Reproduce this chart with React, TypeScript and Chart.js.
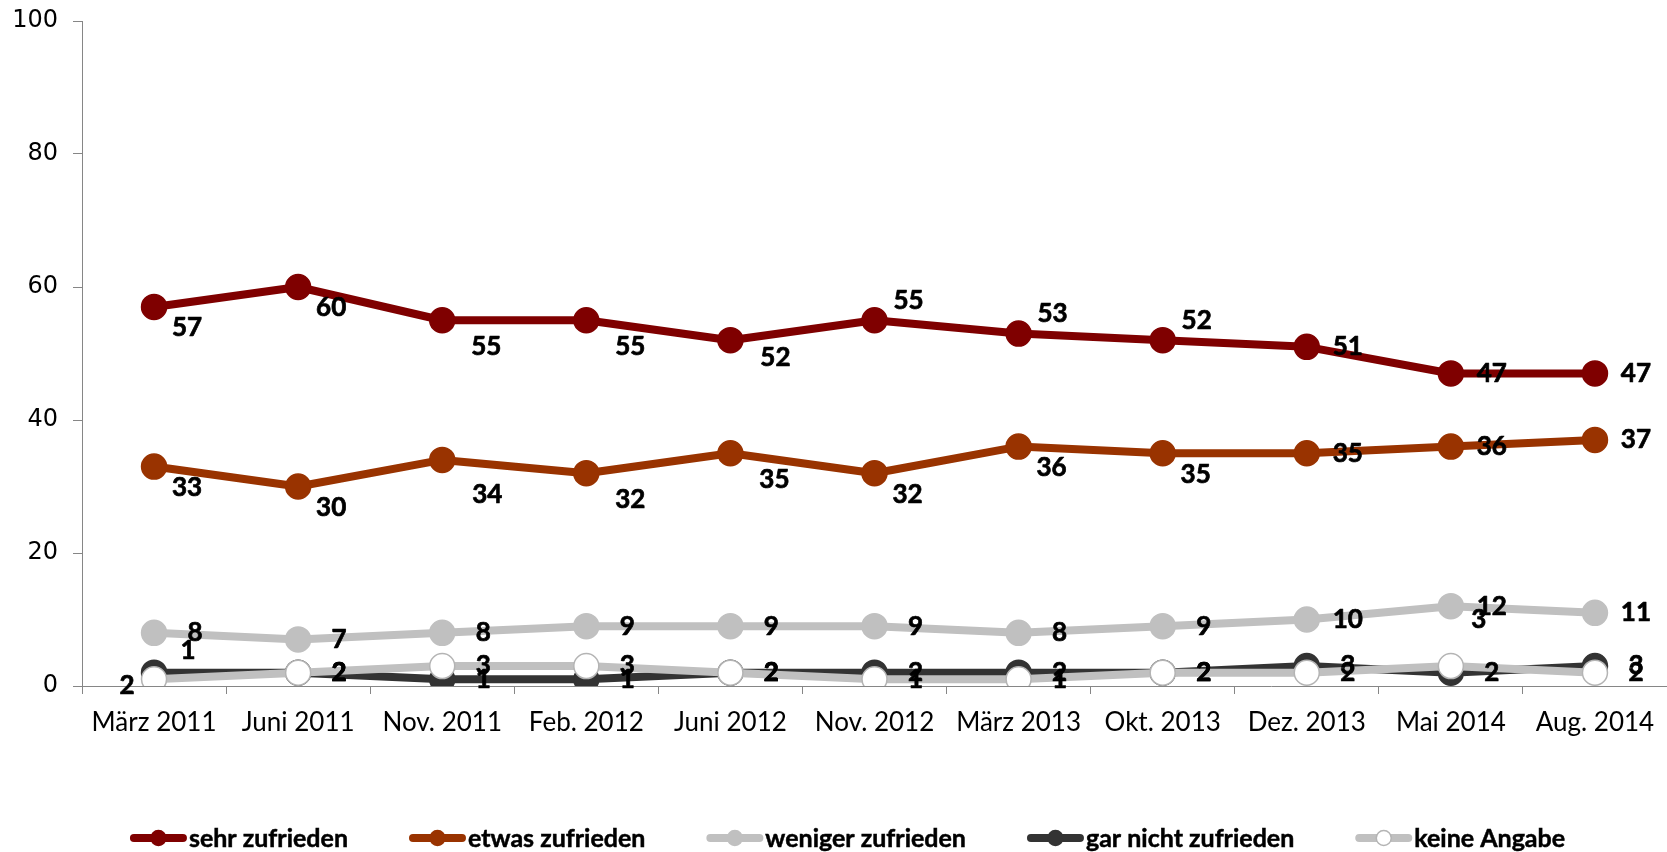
import React, { useEffect, useRef } from "react";
import { Chart, registerables } from "chart.js";

Chart.register(...registerables);

const categories = [
  "März 2011",
  "Juni 2011",
  "Nov. 2011",
  "Feb. 2012",
  "Juni 2012",
  "Nov. 2012",
  "März 2013",
  "Okt. 2013",
  "Dez. 2013",
  "Mai 2014",
  "Aug. 2014",
];
const sehrZufrieden = [57, 60, 55, 55, 52, 55, 53, 52, 51, 47, 47];
const etwasZufrieden = [33, 30, 34, 32, 35, 32, 36, 35, 35, 36, 37];
const wenigerZufrieden = [8, 7, 8, 9, 9, 9, 8, 9, 10, 12, 11];
const garNichtZufrieden = [2, 2, 1, 1, 2, 2, 2, 2, 3, 2, 3];
const keineAngabe = [1, 2, 3, 3, 2, 1, 1, 2, 2, 3, 2];
const seriesNames = [
  "sehr zufrieden",
  "etwas zufrieden",
  "weniger zufrieden",
  "gar nicht zufrieden",
  "keine Angabe",
];
const yMin = 0;
const yMax = 100;
const yStep = 20;

// label placement styles (offset of label centre from the marker)
const LABEL_OFFSETS: Record<string, [number, number]> = {
  r: [41, 0],
  bs: [33, 21],
  br: [44, 26],
  bm: [45, 17],
  bb: [45, 35],
  ar: [34, -20],
  bl: [-27, 13],
  aa: [28, -46],
  a2: [34, -29],
};
const labelPlacement: string[][] = [
  ["bs", "bs", "br", "br", "bm", "ar", "ar", "ar", "r", "r", "r"],
  ["bs", "bs", "bb", "br", "br", "bs", "bs", "bs", "r", "r", "r"],
  ["r", "r", "r", "r", "r", "r", "r", "r", "r", "r", "r"],
  ["bl", "r", "r", "r", "r", "r", "r", "r", "r", "r", "r"],
  ["a2", "r", "r", "r", "r", "r", "r", "r", "r", "aa", "r"],
];

const COLORS = {
  sehr: "#7f0000",
  etwas: "#993300",
  weniger: "#c0c0c0",
  gar: "#333333",
  keineLine: "#c0c0c0",
  keineBorder: "#b4b4b4",
  axis: "#868686",
};

const LABEL_FONT = "bold 26px Lato, 'Open Sans', sans-serif";
const LEGEND_FONT = "bold 25px Lato, 'Open Sans', sans-serif";

const dataLabelPlugin = {
  id: "dataLabels",
  afterDatasetsDraw(chart: any) {
    const ctx = chart.ctx;
    ctx.save();
    ctx.font = LABEL_FONT;
    ctx.fillStyle = "#000";
    ctx.strokeStyle = "#000";
    ctx.lineWidth = 0.7;
    ctx.lineJoin = "round";
    ctx.textAlign = "center";
    ctx.textBaseline = "middle";
    chart.data.datasets.forEach((ds: any, i: number) => {
      const meta = chart.getDatasetMeta(i);
      meta.data.forEach((pt: any, j: number) => {
        const code = labelPlacement[i][j];
        const [dx, dy] = LABEL_OFFSETS[code] || [40, 0];
        const t = String(ds.data[j]);
        ctx.fillText(t, pt.x + dx, pt.y + dy);
        ctx.strokeText(t, pt.x + dx, pt.y + dy);
      });
    });
    ctx.restore();
  },
};

const legendPlugin = {
  id: "customLegend",
  afterDraw(chart: any) {
    const ctx = chart.ctx;
    ctx.save();
    ctx.font = LEGEND_FONT;
    const symW = 57;
    const gapText = 2;
    const gapItem = 61;
    const items = chart.data.datasets.map((ds: any) => ({
      label: ds.label,
      line: ds.borderColor,
      fill: ds.pointBackgroundColor,
      stroke: ds.pointBorderColor,
      w: symW + gapText + ctx.measureText(ds.label).width,
    }));
    const total =
      items.reduce((a: number, it: any) => a + it.w, 0) + gapItem * (items.length - 1);
    const centerX = chart.width / 2 + 14;
    const y = chart.height - 14;
    let x = centerX - total / 2;
    items.forEach((it: any) => {
      ctx.strokeStyle = it.line;
      ctx.lineWidth = 8;
      ctx.lineCap = "round";
      ctx.beginPath();
      ctx.moveTo(x + 4, y);
      ctx.lineTo(x + symW - 4, y);
      ctx.stroke();
      ctx.beginPath();
      ctx.arc(x + symW / 2, y, 7.5, 0, Math.PI * 2);
      ctx.fillStyle = it.fill;
      ctx.fill();
      ctx.lineWidth = 1.5;
      ctx.strokeStyle = it.stroke;
      ctx.stroke();
      ctx.fillStyle = "#000";
      ctx.strokeStyle = "#000";
      ctx.lineWidth = 0.5;
      ctx.textAlign = "left";
      ctx.textBaseline = "middle";
      ctx.fillText(it.label, x + symW + gapText, y + 1);
      ctx.strokeText(it.label, x + symW + gapText, y + 1);
      x += it.w + gapItem;
    });
    ctx.restore();
  },
};

function makeDataset(
  label: string,
  data: number[],
  line: string,
  fill: string,
  border: string,
  order: number
) {
  return {
    label,
    data,
    borderColor: line,
    backgroundColor: line,
    borderWidth: 8,
    borderJoinStyle: "round" as const,
    borderCapStyle: "round" as const,
    pointRadius: 12.5,
    pointBackgroundColor: fill,
    pointBorderColor: border,
    pointBorderWidth: 1.5,
    pointHoverRadius: 12.5,
    tension: 0,
    fill: false,
    order,
  };
}

export default function App() {
  const canvasRef = useRef<HTMLCanvasElement | null>(null);

  useEffect(() => {
    if (!canvasRef.current) return;
    const chart = new Chart(canvasRef.current, {
      type: "line",
      data: {
        labels: categories,
        datasets: [
          makeDataset(seriesNames[0], sehrZufrieden, COLORS.sehr, COLORS.sehr, COLORS.sehr, 5),
          makeDataset(seriesNames[1], etwasZufrieden, COLORS.etwas, COLORS.etwas, COLORS.etwas, 4),
          makeDataset(seriesNames[2], wenigerZufrieden, COLORS.weniger, COLORS.weniger, COLORS.weniger, 3),
          makeDataset(seriesNames[3], garNichtZufrieden, COLORS.gar, COLORS.gar, COLORS.gar, 2),
          makeDataset(seriesNames[4], keineAngabe, COLORS.keineLine, "#ffffff", COLORS.keineBorder, 1),
        ],
      },
      options: {
        responsive: false,
        animation: false,
        events: [],
        layout: { autoPadding: false, padding: { top: 21, right: 0, left: 0, bottom: 0 } },
        plugins: {
          legend: { display: false },
          tooltip: { enabled: false },
        },
        scales: {
          x: {
            type: "category",
            offset: true,
            grid: {
              display: true,
              drawOnChartArea: false,
              drawTicks: true,
              tickLength: 8,
              offset: true,
              color: COLORS.axis,
              lineWidth: 1,
            },
            border: { display: true, color: COLORS.axis, width: 1 },
            ticks: {
              font: { family: "Lato, 'Open Sans', sans-serif", size: 26 },
              color: "#000",
              padding: 13,
              maxRotation: 0,
              autoSkip: false,
            },
            afterFit: (s: any) => {
              s.height = 166;
              s.paddingLeft = 0;
              s.paddingRight = 0;
            },
          },
          y: {
            min: yMin,
            max: yMax,
            ticks: {
              stepSize: yStep,
              font: { family: "'DejaVu Sans', sans-serif", size: 24 },
              color: "#000",
              padding: 15,
            },
            grid: {
              drawOnChartArea: false,
              drawTicks: true,
              tickLength: 9,
              color: COLORS.axis,
            },
            border: { display: true, color: COLORS.axis, width: 1 },
            afterFit: (s: any) => {
              s.width = 82;
              s.paddingTop = 0;
              s.paddingBottom = 0;
            },
          },
        },
      },
      plugins: [dataLabelPlugin, legendPlugin],
    });
    return () => chart.destroy();
  }, []);

  return (
    <div
      style={{
        position: "absolute",
        left: 0,
        top: 0,
        width: 1667,
        height: 852,
        background: "#fff",
      }}
    >
      <canvas ref={canvasRef} width={1667} height={852} style={{ display: "block" }} />
    </div>
  );
}
